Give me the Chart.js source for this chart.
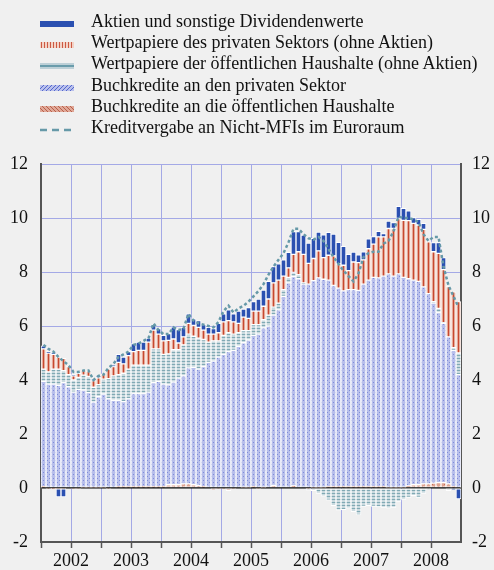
<!DOCTYPE html>
<html>
<head>
<meta charset="utf-8">
<script src="https://cdn.jsdelivr.net/npm/chart.js@4.4.1/dist/chart.umd.min.js"></script>
<style>
  body { margin: 0; background: #f0f0f0; }
  #wrap { position: relative; width: 494px; height: 570px; background: #f0f0f0; }
  #chart { position: absolute; left: 0; top: 0; }
  #legend { position: absolute; left: 0; top: 10.5px; font-family: 'Liberation Serif', 'Times New Roman', serif; font-size: 18px; color: #111; }
  .row { position: relative; height: 21.4px; line-height: 21.4px; white-space: nowrap; }
  .row canvas { position: absolute; left: 40px; top: 10px; }
  .row span { position: absolute; left: 91px; top: 0; }
</style>
</head>
<body>
<div id="wrap">
  <canvas id="chart" width="494" height="570"></canvas>
  <div id="legend"></div>
</div>
<script>
// === Daten (Veränderung gegen Vorjahr, Beiträge in Prozentpunkten) ===
const years = ['2002', '2003', '2004', '2005', '2006', '2007', '2008'];
const months = ['01', '02', '03', '04', '05', '06', '07', '08', '09', '10', '11', '12'];
const categories = years.flatMap(y => months.map(m => y + '-' + m));
const yTicks = [-2, 0, 2, 4, 6, 8, 10, 12];

const buchkrediteOeff = [
  0.05, -0.03, -0.02, -0.03, -0.03, 0.0, -0.03, -0.03, 0.03, 0.03, 0.03, 0.03,
  0.03, -0.03, 0.0, 0.05, 0.05, 0.05, 0.05, 0.05, 0.05, 0.05, 0.05, 0.05,
  0.05, 0.12, 0.12, 0.12, 0.15, 0.15, 0.12, 0.1, 0.05, 0.0, -0.05, -0.03,
  -0.03, -0.1, -0.03, 0.0, 0.03, 0.03, 0.05, -0.03, 0.03, 0.0, 0.1, 0.0,
  0.0, 0.0, 0.08, 0.0, 0.0, -0.03, 0.03, 0.03, 0.03, 0.05, 0.05, 0.05,
  0.05, 0.05, 0.05, 0.05, 0.05, 0.05, 0.05, 0.05, 0.05, 0.03, 0.03, 0.03,
  0.03, 0.08, 0.12, 0.12, 0.15, 0.15, 0.18, 0.2, 0.2, 0.15, 0.05, 0.0
];
const buchkreditePriv = [
  3.9, 3.85, 3.85, 3.8, 3.9, 3.75, 3.55, 3.65, 3.6, 3.5, 3.15, 3.35,
  3.45, 3.3, 3.25, 3.2, 3.15, 3.25, 3.45, 3.45, 3.45, 3.5, 3.85, 3.9,
  3.8, 3.7, 3.8, 3.95, 4.0, 4.3, 4.35, 4.3, 4.45, 4.65, 4.7, 4.85,
  4.95, 5.05, 5.1, 5.25, 5.35, 5.45, 5.6, 5.7, 5.9, 6.0, 6.3, 6.6,
  7.1, 7.6, 7.75, 7.75, 7.55, 7.55, 7.65, 7.75, 7.7, 7.65, 7.45, 7.35,
  7.25, 7.3, 7.3, 7.27, 7.5, 7.65, 7.75, 7.73, 7.8, 7.9, 7.82, 7.9,
  7.77, 7.67, 7.58, 7.53, 7.3, 7.05, 6.67, 6.3, 5.9, 5.45, 5.05, 4.2
];
const wertpapiereOeff = [
  0.45, 0.45, 0.55, 0.6, 0.45, 0.45, 0.45, 0.45, 0.55, 0.6, 0.55, 0.45,
  0.55, 0.75, 0.9, 0.95, 1.05, 1.1, 1.05, 1.05, 1.05, 1.0, 1.25, 1.2,
  1.1, 1.15, 1.2, 1.05, 1.15, 1.25, 1.15, 1.15, 1.0, 0.75, 0.75, 0.6,
  0.7, 0.7, 0.6, 0.5, 0.45, 0.35, 0.4, 0.35, 0.3, 0.4, 0.3, 0.25,
  0.25, 0.2, 0.15, 0.15, 0.05, -0.05, -0.1, -0.2, -0.3, -0.45, -0.65, -0.82,
  -0.8, -0.75, -0.88, -1.0, -0.68, -0.65, -0.68, -0.7, -0.72, -0.75, -0.72, -0.5,
  -0.42, -0.35, -0.28, -0.35, -0.2, -0.05, 0.05, 0.15, 0.02, -0.1, 0.1, 0.8
];
const wertpapierePriv = [
  0.75, 0.7, 0.55, 0.45, 0.45, 0.3, 0.15, 0.15, 0.2, 0.2, 0.25, 0.25,
  0.2, 0.35, 0.35, 0.45, 0.35, 0.5, 0.5, 0.55, 0.55, 0.85, 0.7, 0.55,
  0.5, 0.5, 0.4, 0.25, 0.3, 0.4, 0.4, 0.4, 0.35, 0.3, 0.25, 0.3,
  0.5, 0.45, 0.45, 0.35, 0.5, 0.45, 0.5, 0.5, 0.5, 0.6, 0.9, 0.85,
  0.5, 0.35, 0.67, 0.85, 1.05, 0.77, 0.82, 1.0, 0.8, 0.92, 1.1, 0.9,
  0.95, 0.7, 1.02, 1.03, 0.9, 1.16, 1.23, 1.52, 1.45, 1.68, 1.76, 2.05,
  2.11, 2.15, 2.1, 2.09, 2.13, 1.92, 1.85, 2.04, 1.97, 1.86, 2.07, 1.9
];
const aktien = [
  0.12, 0.05, 0.05, -0.3, -0.3, 0.0, 0.05, 0.0, 0.0, 0.0, 0.05, 0.1,
  0.0, 0.0, 0.05, 0.3, 0.25, 0.15, 0.3, 0.3, 0.3, 0.15, 0.2, 0.2,
  0.2, 0.25, 0.45, 0.5, 0.35, 0.35, 0.25, 0.25, 0.2, 0.25, 0.2, 0.35,
  0.3, 0.4, 0.3, 0.45, 0.3, 0.4, 0.35, 0.45, 0.6, 0.65, 0.6, 0.6,
  0.6, 0.58, 0.85, 0.75, 0.72, 0.75, 0.75, 0.7, 0.85, 0.85, 0.8, 0.8,
  0.7, 0.6, 0.37, 0.29, 0.3, 0.37, 0.28, 0.21, 0.12, 0.28, 0.22, 0.45,
  0.45, 0.37, 0.22, 0.21, 0.22, 0.0, 0.34, 0.4, 0.44, 0.0, -0.05, -0.4
];
const kreditvergabe = [
  5.3, 5.15, 5.05, 4.85, 4.7, 4.55, 4.3, 4.3, 4.35, 4.35, 4.0, 4.15,
  4.2, 4.45, 4.6, 4.85, 4.95, 5.05, 5.3, 5.35, 5.45, 5.55, 6.1, 5.85,
  5.7, 5.7, 5.95, 5.85, 5.9, 6.45, 6.2, 6.1, 6.05, 6.0, 5.95, 6.15,
  6.55, 6.75, 6.5, 6.65, 6.75, 6.9, 7.1, 7.3, 7.55, 7.9, 8.2, 8.45,
  8.7, 9.1, 9.6, 9.6, 9.4, 9.25, 9.2, 9.3, 9.15, 8.85, 8.55, 8.3,
  8.05, 7.85, 7.65, 7.95, 8.55, 8.7, 8.75, 8.75, 9.05, 9.15, 9.5, 10.05,
  10.0, 10.0, 9.95, 9.85, 9.4, 9.15, 9.3, 9.3, 8.2, 7.5, 7.1, 6.7
];

// === Muster ===
function tile(w, h, draw) {
  const c = document.createElement('canvas');
  c.width = w; c.height = h;
  const g = c.getContext('2d');
  draw(g);
  return g.createPattern(c, 'repeat');
}
const mBuchPriv = tile(4, 4, g => {
  g.fillStyle = '#b8bfeb'; g.fillRect(0, 0, 4, 4);
  g.fillStyle = '#7f8cd9'; g.fillRect(3, 0, 1, 1); g.fillRect(1, 2, 1, 1);
});
const mWpOeff = tile(5, 3, g => {
  g.fillStyle = '#cbdadf'; g.fillRect(0, 0, 5, 3);
  g.fillStyle = '#80a9b4'; g.fillRect(0, 1, 5, 1);
});
const mWpPriv = tile(5, 1, g => {
  g.fillStyle = '#e4a998'; g.fillRect(0, 0, 5, 1);
  g.fillStyle = '#c8472f'; g.fillRect(3, 0, 1, 1);
});
const mBuchOeff = tile(4, 4, g => {
  g.fillStyle = '#dfa391'; g.fillRect(0, 0, 4, 4);
  g.fillStyle = '#c4705a'; g.fillRect(0, 0, 1, 1); g.fillRect(2, 2, 1, 1);
});

// === Legende ===
const legendItems = [
  ['Aktien und sonstige Dividendenwerte', g => {
    g.fillStyle = '#2b50b1'; g.fillRect(0, 0, 34, 6);
  }],
  ['Wertpapiere des privaten Sektors (ohne Aktien)', g => {
    g.fillStyle = '#f3d2c6'; g.fillRect(0, 0, 34, 6);
    g.fillStyle = '#cc5a44';
    for (let x = 1; x < 34; x += 3) g.fillRect(x, 0, 1, 6);
  }],
  ['Wertpapiere der öffentlichen Haushalte (ohne Aktien)', g => {
    g.fillStyle = '#bdd0d7'; g.fillRect(0, 0, 34, 6);
    g.fillStyle = '#6a9cab'; g.fillRect(0, 2, 34, 2);
  }],
  ['Buchkredite an den privaten Sektor', g => {
    g.fillStyle = '#b9c0ec'; g.fillRect(0, 0, 34, 6);
    g.strokeStyle = '#5568cc'; g.lineWidth = 1;
    for (let x = -6; x < 40; x += 4) { g.beginPath(); g.moveTo(x, 6); g.lineTo(x + 6, 0); g.stroke(); }
  }],
  ['Buchkredite an die öffentlichen Haushalte', g => {
    g.fillStyle = '#e0a898'; g.fillRect(0, 0, 34, 6);
    g.strokeStyle = '#b8604a'; g.lineWidth = 1;
    for (let x = -6; x < 40; x += 4) { g.beginPath(); g.moveTo(x, 0); g.lineTo(x + 6, 6); g.stroke(); }
  }],
  ['Kreditvergabe an Nicht-MFIs im Euroraum', g => {
    g.strokeStyle = '#6699a8'; g.lineWidth = 2.5; g.setLineDash([7, 5]);
    g.beginPath(); g.moveTo(0, 3); g.lineTo(34, 3); g.stroke();
  }]
];
const legendEl = document.getElementById('legend');
legendItems.forEach(([text, draw]) => {
  const row = document.createElement('div');
  row.className = 'row';
  const sw = document.createElement('canvas');
  sw.width = 34; sw.height = 6;
  draw(sw.getContext('2d'));
  const span = document.createElement('span');
  span.textContent = text;
  row.appendChild(sw);
  row.appendChild(span);
  legendEl.appendChild(row);
});

// === Diagramm ===
const schrift = { family: "'Liberation Serif', 'Times New Roman', serif", size: 18 };
const gitter = '#a4a9e6';
const achse = '#555';

const balken = (label, data, bg) => ({
  type: 'bar', label, data, backgroundColor: bg, borderColor: '#ffffff',
  borderWidth: 1, borderSkipped: false, barPercentage: 1, categoryPercentage: 1,
  stack: 'balken', order: 1
});

new Chart(document.getElementById('chart'), {
  data: {
    labels: categories,
    datasets: [
      balken('Buchkredite an die öffentlichen Haushalte', buchkrediteOeff, mBuchOeff),
      balken('Buchkredite an den privaten Sektor', buchkreditePriv, mBuchPriv),
      balken('Wertpapiere der öffentlichen Haushalte (ohne Aktien)', wertpapiereOeff, mWpOeff),
      balken('Wertpapiere des privaten Sektors (ohne Aktien)', wertpapierePriv, mWpPriv),
      balken('Aktien und sonstige Dividendenwerte', aktien, '#2b50b1'),
      {
        type: 'line', label: 'Kreditvergabe an Nicht-MFIs im Euroraum', data: kreditvergabe,
        borderColor: '#6699a8', borderWidth: 2.5, borderDash: [3, 2.5],
        pointRadius: 0, tension: 0, fill: false, stack: 'linie', order: 0
      }
    ]
  },
  options: {
    responsive: false,
    animation: false,
    devicePixelRatio: 1,
    layout: { padding: { top: 164, left: 0, right: 0, bottom: 0 } },
    plugins: { legend: { display: false }, tooltip: { enabled: false } },
    scales: {
      x: {
        stacked: true,
        offset: true,
        grid: {
          offset: true,
          color: c => (c.index % 6 === 0 && c.index > 0 && c.index < categories.length) ? gitter : 'rgba(0,0,0,0)',
          tickColor: c => (c.index % 6 === 0) ? achse : 'rgba(0,0,0,0)',
          tickLength: 6,
          tickWidth: 1.5
        },
        border: { color: achse, width: 2 },
        ticks: {
          autoSkip: false, maxRotation: 0, minRotation: 0,
          padding: 2, labelOffset: -2.5,
          color: '#111', font: schrift,
          callback: (v, i) => categories[i].endsWith('-07') ? categories[i].slice(0, 4) : ''
        },
        afterFit: s => { s.height = 28; }
      },
      y: {
        stacked: true,
        min: -2, max: 12,
        afterBuildTicks: s => { s.ticks = yTicks.map(v => ({ value: v })); },
        grid: {
          color: c => c.tick.value === 0 ? '#000' : gitter,
          lineWidth: c => c.tick.value === 0 ? 1.5 : 1,
          drawTicks: false
        },
        border: { color: achse, width: 2 },
        ticks: { padding: 13, color: '#111', font: schrift },
        afterFit: s => { s.width = 41; }
      },
      y2: {
        position: 'right',
        min: -2, max: 12,
        afterBuildTicks: s => { s.ticks = yTicks.map(v => ({ value: v })); },
        grid: { drawOnChartArea: false, drawTicks: false },
        border: { color: achse, width: 2 },
        ticks: { padding: 11, color: '#111', font: schrift },
        afterFit: s => { s.width = 33; }
      }
    }
  }
});
</script>
</body>
</html>
